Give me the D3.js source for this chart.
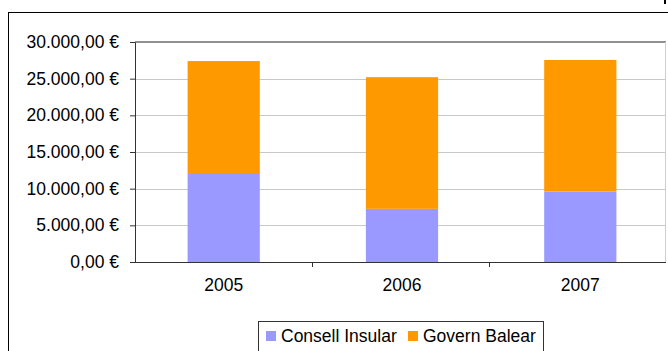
<!DOCTYPE html>
<html><head><meta charset="utf-8">
<script src="https://cdn.jsdelivr.net/npm/d3@7"></script>
<style>body{margin:0;background:#fff;}svg{display:block;font-family:"Liberation Sans",Arial,sans-serif;}</style>
</head><body>
<svg id="c" width="668" height="351"></svg>
<script>
const categories = ["2005", "2006", "2007"];
const seriesNames = ["Consell Insular", "Govern Balear"];
const consellInsular = [12000, 7250, 9600];
const governBalear = [15400, 17950, 17950];
const yTicks = [0, 5000, 10000, 15000, 20000, 25000, 30000];
const colors = ["#9999ff", "#ff9900"];

const svg = d3.select("#c");
// outer frame
svg.append("rect").attr("x", 8.5).attr("y", 12.5).attr("width", 700).attr("height", 400)
  .attr("fill", "none").attr("stroke", "#000").attr("stroke-width", 1);
svg.append("line").attr("x1", 665).attr("x2", 665).attr("y1", 0).attr("y2", 4).attr("stroke", "#000").attr("stroke-width", 2);

const L = 135, R = 666, T = 42, B = 262;
const x = d3.scaleBand().domain(categories).range([L, L + 534]).paddingInner(0.595).paddingOuter(0.295);
const xb = d3.scaleBand().domain(categories).range([L, R]);
const y = d3.scaleLinear().domain([0, 30000]).range([B, T]);

// gridlines
svg.append("g").selectAll("line").data(yTicks.filter(d => d > 0 && d < 30000)).join("line")
  .attr("x1", L).attr("x2", R).attr("y1", d => Math.round(y(d)) + 0.5).attr("y2", d => Math.round(y(d)) + 0.5)
  .attr("stroke", "#c8c8c8").attr("stroke-width", 1);
// plot area border top and right
svg.append("line").attr("x1", L).attr("x2", R).attr("y1", T).attr("y2", T).attr("stroke", "#909090").attr("stroke-width", 2);
svg.append("line").attr("x1", R - 0.5).attr("x2", R - 0.5).attr("y1", T).attr("y2", B).attr("stroke", "#d0d0d0").attr("stroke-width", 1);

const stackData = categories.map((c, i) => ({cat: c, "Consell Insular": consellInsular[i], "Govern Balear": governBalear[i]}));
const stacked = d3.stack().keys(seriesNames)(stackData);
svg.append("g").selectAll("g").data(stacked).join("g").attr("fill", (d, i) => colors[i])
  .selectAll("rect").data(d => d).join("rect")
  .attr("x", d => x(d.data.cat)).attr("width", x.bandwidth())
  .attr("y", d => y(d[1])).attr("height", d => y(d[0]) - y(d[1]));

// y axis
const fmt = d => d3.formatLocale({decimal: ",", thousands: ".", grouping: [3], currency: ["", " €"]}).format(",.2f")(d) + " €";
const yAxis = svg.append("g").attr("transform", `translate(${L},0)`)
  .call(d3.axisLeft(y).tickValues(yTicks).tickFormat(fmt).tickSize(5).tickPadding(11).tickSizeOuter(0));
yAxis.select(".domain").attr("stroke", "#333");
yAxis.selectAll(".tick line").attr("stroke", "#333");
yAxis.selectAll("text").attr("font-size", 17.5).attr("fill", "#000").attr("font-family", "Liberation Sans, Arial, sans-serif");

// x axis
const xAxis = svg.append("g").attr("transform", `translate(0,${B})`)
  .call(d3.axisBottom(x).tickSize(0).tickPadding(17).tickSizeOuter(0));
xAxis.select(".domain").attr("stroke", "#333").attr("d", `M${L},0.5H${R}`);
xAxis.selectAll("text").attr("font-size", 17.5).attr("fill", "#000").attr("font-family", "Liberation Sans, Arial, sans-serif");
svg.append("g").selectAll("line").data(categories.slice(1)).join("line")
  .attr("x1", d => Math.round(xb(d)) + 0.5).attr("x2", d => Math.round(xb(d)) + 0.5)
  .attr("y1", B).attr("y2", B + 5).attr("stroke", "#333");

// legend
const lg = svg.append("g");
lg.append("rect").attr("x", 258.5).attr("y", 321.5).attr("width", 285).attr("height", 60)
  .attr("fill", "#fff").attr("stroke", "#333").attr("stroke-width", 1);
const items = [{name: seriesNames[0], c: colors[0], sx: 266, tx: 281}, {name: seriesNames[1], c: colors[1], sx: 408, tx: 423}];
items.forEach(it => {
  lg.append("rect").attr("x", it.sx).attr("y", 331).attr("width", 10).attr("height", 10).attr("fill", it.c);
  lg.append("text").attr("x", it.tx).attr("y", 342).attr("font-size", 17.5).attr("fill", "#000").text(it.name);
});
</script>
</body></html>
